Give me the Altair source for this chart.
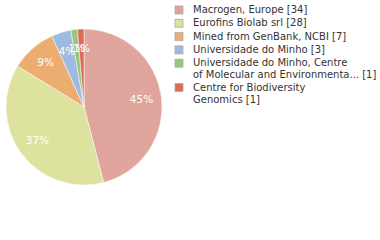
import altair as alt
import pandas as pd

labels = [
    "Macrogen, Europe [34]",
    "Eurofins Biolab srl [28]",
    "Mined from GenBank, NCBI [7]",
    "Universidade do Minho [3]",
    "Universidade do Minho, Centre\nof Molecular and Environmenta... [1]",
    "Centre for Biodiversity\nGenomics [1]",
]
counts = [34, 28, 7, 3, 1, 1]
pct_text = ["45%", "37%", "9%", "4%", "1%", "1%"]
colors = ["#e0a59d", "#dde29e", "#eead70", "#9dbbe0", "#99c47b", "#dc6c56"]

df = pd.DataFrame({"label": labels, "count": counts, "pct": pct_text, "order": list(range(len(labels)))})

base = alt.Chart(df).encode(
    theta=alt.Theta("count:Q", stack=True),
    order=alt.Order("order:Q"),
)

pie = base.mark_arc(outerRadius=78, stroke="white", strokeWidth=0.5).encode(
    color=alt.Color(
        "label:N",
        sort=labels,
        scale=alt.Scale(domain=labels, range=colors),
        legend=alt.Legend(
            title=None,
            orient="none",
            legendX=174,
            legendY=5,
            symbolType="square",
            symbolSize=64,
            symbolStrokeWidth=0.8,
            symbolStrokeColor="#aaaaaa",
            labelFont="DejaVu Sans",
            labelFontSize=10,
            labelColor="#333333",
            labelLimit=220,
            labelOffset=9,
            rowPadding=1.3,
            labelExpr="split(datum.label, '\\n')",
        ),
    )
)
text = base.mark_text(radius=58, color="white", font="DejaVu Sans", fontSize=10.5).encode(
    text="pct:N"
)

chart = (pie + text).properties(
    width=168, height=214, autosize=alt.AutoSizeParams(type="pad"), padding=0
).configure_view(stroke=None)

chart.save("out.html", embed_options={"renderer": "svg", "actions": False})
